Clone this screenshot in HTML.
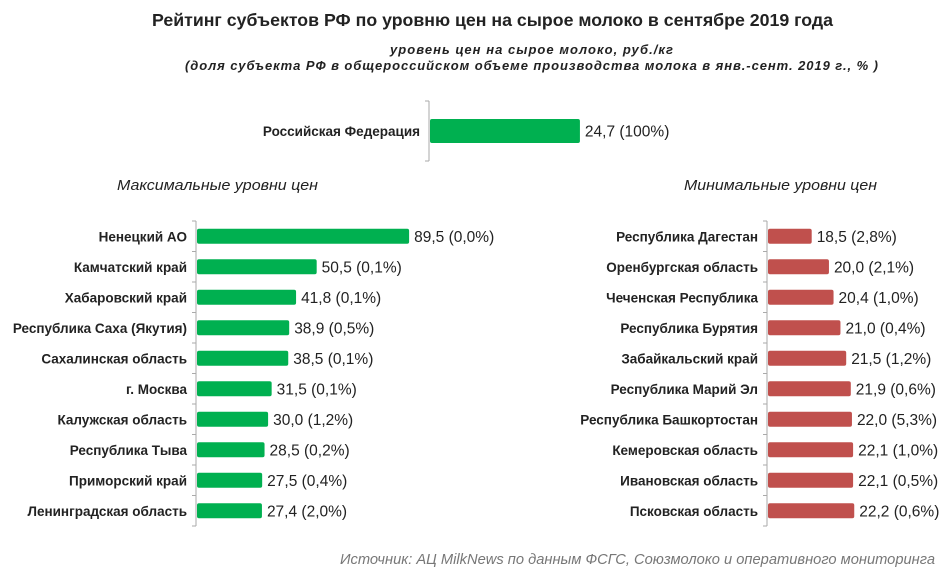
<!DOCTYPE html>
<html><head><meta charset="utf-8"><style>
body{margin:0;background:#fff;width:944px;height:571px;overflow:hidden}
svg text{font-family:"Liberation Sans",sans-serif}
</style></head><body>
<svg id="c" width="944" height="571">
<text x="152" y="26" textLength="681" lengthAdjust="spacingAndGlyphs" font-size="17.5" font-weight="bold" fill="#222">Рейтинг субъектов РФ по уровню цен на сырое молоко в сентябре 2019 года</text>
<text x="390" y="54" textLength="283" lengthAdjust="spacing" font-size="13" font-weight="bold" font-style="italic" fill="#222">уровень цен на сырое молоко, руб./кг</text>
<text x="185" y="70" textLength="693" lengthAdjust="spacing" font-size="13" font-weight="bold" font-style="italic" fill="#222">(доля субъекта РФ в общероссийском объеме производства молока в янв.-сент. 2019 г., % )</text>
<text x="117" y="190" textLength="201" lengthAdjust="spacingAndGlyphs" font-size="15" font-style="italic" fill="#222">Максимальные уровни цен</text>
<text x="684" y="190" textLength="193" lengthAdjust="spacingAndGlyphs" font-size="15" font-style="italic" fill="#222">Минимальные уровни цен</text>
<text x="340" y="564" textLength="595" lengthAdjust="spacingAndGlyphs" font-size="14.5" font-style="italic" fill="#777">Источник:  АЦ MilkNews по данным ФСГС, Союзмолоко и оперативного мониторинга</text>
<g id="g"></g>
</svg>
<script>
const rfLabels=["Российская Федерация"];
const rfValues=[24.7];
const rfShares=["100%"];
const maxLabels=["Ненецкий АО","Камчатский край","Хабаровский край","Республика Саха (Якутия)","Сахалинская область","г. Москва","Калужская область","Республика Тыва","Приморский край","Ленинградская область"];
const maxValues=[89.5,50.5,41.8,38.9,38.5,31.5,30.0,28.5,27.5,27.4];
const maxShares=["0,0%","0,1%","0,1%","0,5%","0,1%","0,1%","1,2%","0,2%","0,4%","2,0%"];
const minLabels=["Республика Дагестан","Оренбургская область","Чеченская Республика","Республика Бурятия","Забайкальский край","Республика Марий Эл","Республика Башкортостан","Кемеровская область","Ивановская область","Псковская область"];
const minValues=[18.5,20.0,20.4,21.0,21.5,21.9,22.0,22.1,22.1,22.2];
const minShares=["2,8%","2,1%","1,0%","0,4%","1,2%","0,6%","5,3%","1,0%","0,5%","0,6%"];
const NS="http://www.w3.org/2000/svg";
const g=document.getElementById('g');
function mk(t,a){const e=document.createElementNS(NS,t);for(const k in a)e.setAttribute(k,a[k]);g.appendChild(e);return e;}
const fmt=v=>v.toFixed(1).replace('.',',');
function panel(labels,values,shares,axisX,x0,scale,yTop,step,barH,color,name){
  const n=labels.length;
  const ax=mk('line',{x1:axisX,x2:axisX,y1:yTop,y2:yTop+n*step,stroke:'#aaa','stroke-width':1});
  
  
  for(let i=0;i<=n;i++){const tk=mk('line',{x1:axisX-4,x2:axisX,y1:yTop+i*step,y2:yTop+i*step,stroke:'#aaa'});
    
    }
  labels.forEach((l,i)=>{
    const cy=yTop+step*(i+0.5);
    const w=(values[i]-x0)*scale;
    const b=mk('rect',{x:axisX+1,y:cy-barH/2,width:w,height:barH,rx:2,fill:color});
    
    
    const t=mk('text',{x:axisX-9,y:cy+5,'text-anchor':'end','font-size':13.5,'font-weight':'bold',fill:'#222'});t.textContent=l;
    
    
    const v=mk('text',{x:axisX+1+w+5,y:cy+5.5,'font-size':15.5,fill:'#222'});v.textContent=fmt(values[i])+' ('+shares[i]+')';
    
    
  });
}
panel(rfLabels,rfValues,rfShares,429,0,6.07,101,60,24,'#00b050','rf');
panel(maxLabels,maxValues,maxShares,196,0,2.37,221,30.5,15,'#00b050','max');
panel(minLabels,minValues,minShares,767,14.7,11.5,221,30.5,15,'#c0504d','min');
</script>
</body></html>
